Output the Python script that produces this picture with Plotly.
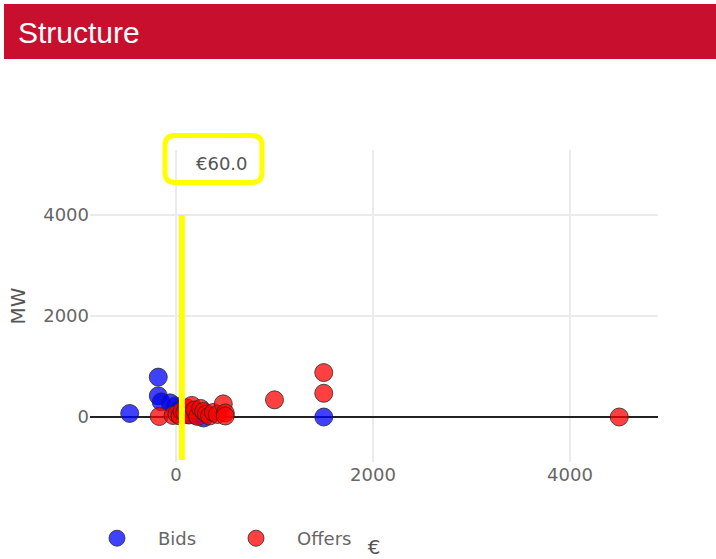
import plotly.graph_objects as go

# ---- data ----
bids_x = [-470, -180, -180, -150, -60, -10, 30, 120, 200, 280, 1500]
bids_y = [70, 790, 420, 300, 280, 220, 150, 50, 30, -20, 0]

offers_x = [-170, -30, 10, 40, 60, 90, 110, 130, 160, 190, 220, 250, 280, 310,
            340, 380, 420, 480, 500, 500, 1000, 1500, 1500, 4500]
offers_y = [10, 30, 60, 20, 120, 90, 180, 40, 230, 140, 10, 170, 110, 60,
            20, 90, 50, 260, 80, 20, 340, 470, 880, 0]

price = 60.0
price_line_y = [-850, 4000]
price_label = "€60.0"

x_ticks = [0, 2000, 4000]
y_ticks = [0, 2000, 4000]

# ---- layout geometry (pixels) ----
W, H = 716, 559
L, R, T, B = 90, 58, 150, 97
PW, PH = W - L - R, H - T - B


def px_x(p):
    return (p - L) / PW


def px_y(p):
    return (H - B - p) / PH


FONT = "DejaVu Sans"
GRAY = "#666666"

fig = go.Figure()

fig.add_trace(go.Scatter(
    x=bids_x, y=bids_y, mode="markers", name="Bids",
    marker=dict(size=18, color="rgba(0,0,255,0.75)",
                line=dict(color="rgba(40,40,40,0.8)", width=1)),
))
fig.add_trace(go.Scatter(
    x=offers_x, y=offers_y, mode="markers", name="Offers",
    marker=dict(size=18, color="rgba(255,0,0,0.75)",
                line=dict(color="rgba(40,40,40,0.8)", width=1)),
))
fig.add_trace(go.Scatter(
    x=[price, price], y=price_line_y, mode="lines", showlegend=False,
    line=dict(color="#ffff00", width=6), hoverinfo="skip",
))

# rounded label box (pixel offsets relative to the top of the price line)
r = 10
x0, x1, y0, y1 = -16.5, 80.5, 32.5, 79.5
path = (f"M {x0 + r} {y0} L {x1 - r} {y0} Q {x1} {y0} {x1} {y0 + r} "
        f"L {x1} {y1 - r} Q {x1} {y1} {x1 - r} {y1} L {x0 + r} {y1} "
        f"Q {x0} {y1} {x0} {y1 - r} L {x0} {y0 + r} Q {x0} {y0} {x0 + r} {y0} Z")

shapes = [
    dict(type="rect", xref="paper", yref="paper",
         x0=px_x(4), x1=px_x(716), y0=px_y(59), y1=px_y(4),
         fillcolor="#C8102E", line=dict(width=0), layer="above"),
    dict(type="path", xref="paper", yref="paper", xsizemode="pixel", ysizemode="pixel",
         xanchor=px_x(181.5), yanchor=px_y(215), path=path,
         line=dict(color="#ffff00", width=5), fillcolor="rgba(0,0,0,0)"),
]

annotations = [
    dict(text="Structure", xref="paper", yref="paper", x=px_x(16), y=px_y(32),
         xanchor="left", yanchor="middle", showarrow=False,
         font=dict(family="Liberation Sans", size=30, color="white")),
    dict(text=price_label, xref="x", yref="y", x=price, y=price_line_y[1],
         xshift=40, yshift=52, showarrow=False,
         font=dict(family=FONT, size=18, color="#555555")),
]

fig.update_layout(
    width=W, height=H,
    margin=dict(l=L, r=R, t=T, b=B, autoexpand=False),
    paper_bgcolor="white", plot_bgcolor="white",
    font=dict(family=FONT, color=GRAY, size=18),
    shapes=shapes, annotations=annotations,
    showlegend=True,
    legend=dict(orientation="h", x=px_x(76), y=px_y(520), xanchor="left", yanchor="top",
                itemwidth=72, entrywidth=52, entrywidthmode="pixels",
                font=dict(family=FONT, size=18, color=GRAY)),
    xaxis=dict(range=[-873, 4893], tickvals=x_ticks, showgrid=True,
               gridcolor="#ebebeb", gridwidth=2, zeroline=False, showline=False,
               tickfont=dict(family=FONT, size=18, color=GRAY),
               title=dict(text="€", standoff=56,
                          font=dict(family=FONT, size=20, color="#555555"))),
    yaxis=dict(range=[-891, 5287], tickvals=y_ticks, showgrid=True,
               gridcolor="#ebebeb", gridwidth=2, zeroline=True,
               zerolinecolor="#222222", zerolinewidth=1.5, showline=False,
               tickfont=dict(family=FONT, size=18, color=GRAY),
               title=dict(text="MW", standoff=12,
                          font=dict(family=FONT, size=20, color="#555555"))),
)

fig.write_html(
    "out.html",
    config={"displayModeBar": False},
    post_script="document.body.style.margin='0';document.body.style.overflow='hidden';"
                "document.documentElement.style.overflow='hidden';",
)
